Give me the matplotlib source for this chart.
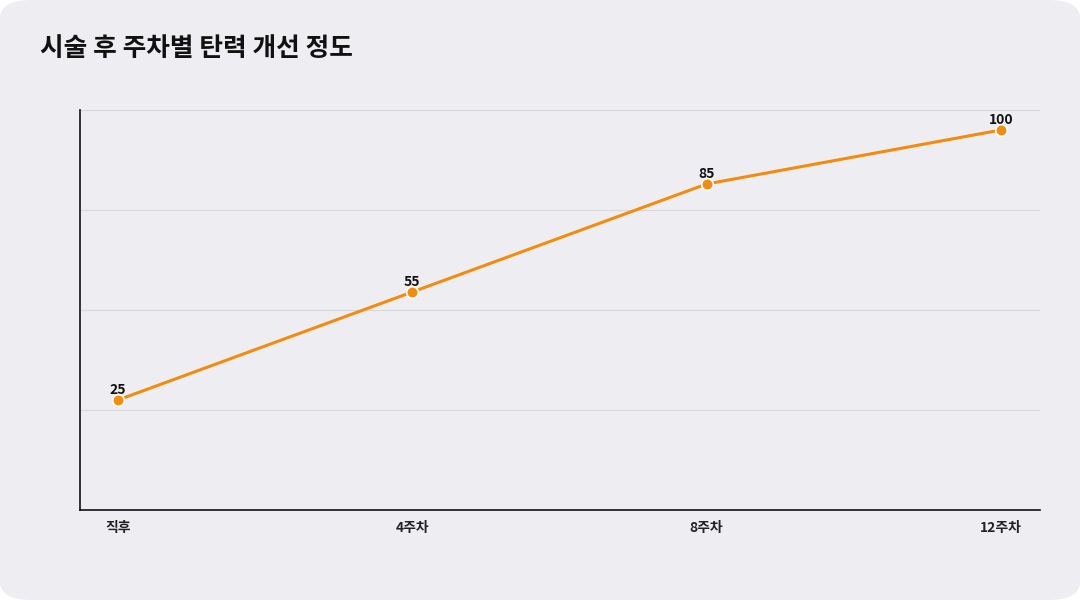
import matplotlib
matplotlib.use("Agg")
import matplotlib.pyplot as plt
from matplotlib.patches import FancyBboxPatch

plt.rcParams['font.family'] = ['Noto Sans CJK KR', 'DejaVu Sans']

categories = ["직후", "4주차", "8주차", "12주차"]
values = [25, 55, 85, 100]
title = "시술 후 주차별 탄력 개선 정도"

fig = plt.figure(figsize=(10.8, 6.0), dpi=100)
fig.patch.set_facecolor("white")
bg = FancyBboxPatch((0.0, 0.0), 1.0, 1.0, boxstyle="round,pad=0,rounding_size=0.03",
                    transform=fig.transFigure, facecolor="#EEEEF2", edgecolor="none", zorder=-10)
fig.patches.append(bg)

ax = fig.add_axes([80/1080, 1-510/600, 960/1080, 400/600])
ax.set_facecolor("none")
x = list(range(len(categories)))
color = "#F28C0F"
ax.plot(x, values, color=color, lw=2.2, zorder=3)
ax.scatter(x, values, s=70, color=color, edgecolor="white", linewidth=1.2, zorder=4)
for xi, v in zip(x, values):
    ax.annotate(str(v), (xi, v), xytext=(0, 2), textcoords="offset points",
                ha="center", va="bottom", fontsize=10, fontweight="bold", color="#111111")

ymin, ymax = -5.56, 105.56
ax.set_ylim(ymin, ymax)
ax.set_xlim(-0.129, 3.133)
step = (ymax - ymin) / 4
for i in range(1, 5):
    ax.axhline(ymin + i * step, color="#D8D8DC", lw=0.8, zorder=1)
ax.set_yticks([])
ax.set_xticks(x)
ax.set_xticklabels(categories, fontsize=10, fontweight="bold", color="#222222")
ax.tick_params(axis="x", length=0, pad=8)
for s in ["top", "right"]:
    ax.spines[s].set_visible(False)
ax.spines["left"].set_color("#111111")
ax.spines["bottom"].set_color("#111111")
ax.spines["left"].set_linewidth(1.2)
ax.spines["bottom"].set_linewidth(1.2)

fig.text(40/1080, 1-48/600, title, fontsize=18.5, fontweight="bold", color="#111111",
         ha="left", va="center")

fig.savefig("out.png", dpi=100)
